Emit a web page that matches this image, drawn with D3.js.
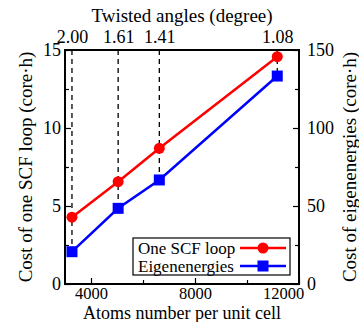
<!DOCTYPE html>
<html>
<head>
<meta charset="utf-8">
<script src="https://cdn.jsdelivr.net/npm/d3@7"></script>
<style>
    body { margin: 0; background: #fff; }
    text { font-family: "Liberation Serif", "DejaVu Serif", serif; fill: #000; }
</style>
</head>
<body>
<svg id="chart"></svg>
<script>
// data
const atoms = [3268, 5044, 6628, 11164];
const angles = ['2.00', '1.61', '1.41', '1.08'];
const scfCost = [4.28, 6.56, 8.70, 14.57];
const eigCost = [20.7, 48.5, 66.7, 133.3];

const xMajor = [4000, 8000, 12000];
const xMinor = [6000, 10000];
const yLeftTicks = [0, 5, 10, 15];
const yLeftMinor = [2.5, 7.5, 12.5];
const yRightTicks = [0, 50, 100, 150];
const yRightMinor = [25, 75, 125];

// dimensions
const margin = { top: 50, right: 60, bottom: 38, left: 65 };
const W = 359, H = 322;
const width = W - margin.left - margin.right;
const height = H - margin.top - margin.bottom;

const svg = d3.select('#chart')
    .attr('width', W)
    .attr('height', H)
    .append('g')
    .attr('transform', `translate(${margin.left},${margin.top})`);

const x = d3.scaleLinear().domain([3000, 12000]).range([0, width]);
const yL = d3.scaleLinear().domain([0, 15]).range([height, 0]);
const yR = d3.scaleLinear().domain([0, 150]).range([height, 0]);

const tickFs = 18;
const titleFs = 19;

// dashed guide lines from top to the lower point
svg.selectAll('.guide')
    .data(atoms)
    .enter()
    .append('line')
    .attr('x1', d => x(d))
    .attr('x2', d => x(d))
    .attr('y1', 0)
    .attr('y2', (d, i) => yR(eigCost[i]))
    .attr('stroke', '#000')
    .attr('stroke-width', 1.3)
    .attr('stroke-dasharray', '5,4');

// inward ticks
function styleAxis(g) {
    g.attr('font-family', '"Liberation Serif", serif').attr('font-size', tickFs);
    g.select('.domain').remove();
    g.selectAll('.tick line').attr('stroke', '#000').attr('stroke-width', 1.2);
}

const xAxis = svg.append('g')
    .attr('transform', `translate(0,${height})`)
    .call(d3.axisBottom(x).tickValues(xMajor).tickSize(-6).tickPadding(3).tickFormat(d3.format('d')));
styleAxis(xAxis);
xAxis.attr('font-size', 16.5);
xAxis.selectAll('.tick text').attr('dx', d => d === 12000 ? -16 : 0);

svg.append('g')
    .attr('transform', `translate(0,${height})`)
    .call(d3.axisBottom(x).tickValues(xMinor).tickSize(-4).tickFormat(''))
    .call(styleAxis);

svg.append('g')
    .call(d3.axisLeft(yL).tickValues(yLeftTicks).tickSize(-6).tickPadding(4))
    .call(styleAxis);
svg.append('g')
    .call(d3.axisLeft(yL).tickValues(yLeftMinor).tickSize(-4).tickFormat(''))
    .call(styleAxis);

svg.append('g')
    .attr('transform', `translate(${width},0)`)
    .call(d3.axisRight(yR).tickValues(yRightTicks).tickSize(-6).tickPadding(8))
    .call(styleAxis);
svg.append('g')
    .attr('transform', `translate(${width},0)`)
    .call(d3.axisRight(yR).tickValues(yRightMinor).tickSize(-4).tickFormat(''))
    .call(styleAxis);

// top axis: twist angles
svg.append('g')
    .call(d3.axisTop(x).tickValues(atoms).tickSize(0).tickPadding(7).tickFormat((d, i) => angles[i]))
    .call(styleAxis);

// frame
svg.append('rect')
    .attr('width', width)
    .attr('height', height)
    .attr('fill', 'none')
    .attr('stroke', '#000')
    .attr('stroke-width', 2);

// lines
const lineL = d3.line().x((d, i) => x(atoms[i])).y(d => yL(d));
const lineR = d3.line().x((d, i) => x(atoms[i])).y(d => yR(d));

svg.append('path')
    .datum(scfCost)
    .attr('d', lineL)
    .attr('fill', 'none')
    .attr('stroke', '#ff0000')
    .attr('stroke-width', 2.5);

svg.append('path')
    .datum(eigCost)
    .attr('d', lineR)
    .attr('fill', 'none')
    .attr('stroke', '#0000ff')
    .attr('stroke-width', 2.5);

svg.selectAll('.dot')
    .data(scfCost)
    .enter()
    .append('circle')
    .attr('cx', (d, i) => x(atoms[i]))
    .attr('cy', d => yL(d))
    .attr('r', 5.5)
    .attr('fill', '#ff0000');

const sq = 11;
svg.selectAll('.sq')
    .data(eigCost)
    .enter()
    .append('rect')
    .attr('x', (d, i) => x(atoms[i]) - sq / 2)
    .attr('y', d => yR(d) - sq / 2)
    .attr('width', sq)
    .attr('height', sq)
    .attr('fill', '#0000ff');

// legend
const legend = svg.append('g').attr('transform', `translate(68,188)`);
legend.append('rect')
    .attr('width', 157)
    .attr('height', 37)
    .attr('fill', '#fff')
    .attr('stroke', '#000')
    .attr('stroke-width', 1.2);

const items = [
    { label: 'One SCF loop', color: '#ff0000', shape: 'circle' },
    { label: 'Eigenenergies', color: '#0000ff', shape: 'square' }
];
items.forEach((it, i) => {
    const yy = 10 + i * 18;
    legend.append('text')
        .attr('x', 5)
        .attr('y', yy)
        .attr('dy', '0.35em')
        .style('font-size', '17px')
        .text(it.label);
    legend.append('line')
        .attr('x1', 107).attr('x2', 153)
        .attr('y1', yy).attr('y2', yy)
        .attr('stroke', it.color)
        .attr('stroke-width', 2.5);
    if (it.shape === 'circle') {
        legend.append('circle').attr('cx', 130).attr('cy', yy).attr('r', 5.5).attr('fill', it.color);
    } else {
        legend.append('rect').attr('x', 130 - sq / 2).attr('y', yy - sq / 2)
            .attr('width', sq).attr('height', sq).attr('fill', it.color);
    }
});

// axis titles
svg.append('text')
    .attr('x', width / 2)
    .attr('y', height + 35)
    .style('text-anchor', 'middle')
    .style('font-size', '18px')
    .text('Atoms number per unit cell');

svg.append('text')
    .attr('x', width / 2)
    .attr('y', -28)
    .style('text-anchor', 'middle')
    .style('font-size', titleFs + 'px')
    .text('Twisted angles (degree)');

svg.append('text')
    .attr('transform', `translate(${-33},${height / 2}) rotate(-90)`)
    .style('text-anchor', 'middle')
    .style('font-size', titleFs + 'px')
    .text('Cost of one SCF loop (core·h)');

svg.append('text')
    .attr('transform', `translate(${width + 57},${height / 2}) rotate(-90)`)
    .style('text-anchor', 'middle')
    .style('font-size', titleFs + 'px')
    .text('Cost of eigenenergies (core·h)');
</script>
</body>
</html>
